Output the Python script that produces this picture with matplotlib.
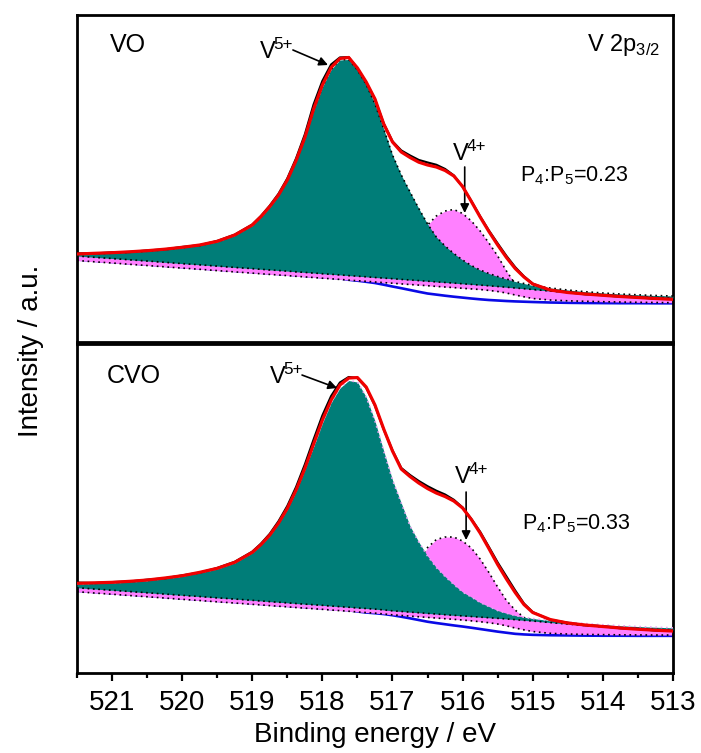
import matplotlib
matplotlib.use('Agg')
import matplotlib.pyplot as plt
from matplotlib.ticker import MultipleLocator

plt.rcParams['font.family'] = ['Liberation Sans Narrow', 'Liberation Sans', 'DejaVu Sans']
plt.rcParams['mathtext.fontset'] = 'custom'
plt.rcParams['mathtext.rm'] = 'Liberation Sans Narrow'

# binding energy grid (eV), denser around the peaks
energy = [521.5, 521.25, 521.0, 520.75, 520.5, 520.25, 520.0, 519.75, 519.5, 519.25,
          519.0, 518.875, 518.75, 518.625, 518.5, 518.375, 518.25, 518.125, 518.0, 517.875,
          517.75, 517.625, 517.5, 517.375, 517.25, 517.125, 517.0, 516.875, 516.75, 516.625,
          516.5, 516.375, 516.25, 516.125, 516.0, 515.875, 515.75, 515.625, 515.5, 515.375,
          515.25, 515.125, 515.0, 514.75, 514.5, 514.25, 514.0, 513.75, 513.5, 513.25,
          513.0]

# ---- VO ----
vo_raw = [88.6, 88.5, 89.6, 90.0, 91.5, 92.6, 95.0, 96.8, 101.0, 107.3,
          117.4, 126.0, 136.3, 148.2, 163.5, 183.5, 207.5, 237.5, 261.0, 277.5,
          284.5, 284.8, 273.5, 259.4, 242.6, 218.4, 200.6, 191.5, 186.5, 182.0,
          179.5, 177.2, 173.0, 166.5, 155.2, 140.9, 125.6, 111.4, 98.5, 86.0,
          74.8, 65.6, 58.3, 51.7, 49.8, 47.7, 46.9, 45.3, 44.8, 43.2,
          43.0]
vo_fit = [88.0, 88.7, 89.3, 90.2, 91.3, 92.8, 94.7, 97.0, 100.7, 107.0,
          117.0, 125.5, 135.5, 147.0, 162.0, 181.5, 204.5, 233.0, 257.0, 274.5,
          283.5, 284.5, 274.0, 260.0, 243.0, 218.0, 200.0, 190.0, 184.5, 179.8,
          177.0, 175.0, 171.5, 166.0, 155.5, 140.5, 125.0, 110.5, 97.0, 84.5,
          73.5, 65.0, 58.0, 52.0, 49.5, 48.0, 46.7, 45.5, 44.5, 43.5,
          42.7]
vo_bg = [82.5, 81.2, 80.0, 78.7, 77.5, 76.2, 74.9, 73.7, 72.4, 71.1,
         69.9, 69.2, 68.6, 68.0, 67.4, 66.7, 66.1, 65.5, 64.8, 64.2,
         63.6, 62.2, 61.3, 60.2, 59.0, 57.3, 55.5, 53.8, 52.0, 50.2,
         48.5, 47.4, 46.3, 45.3, 44.4, 43.5, 42.7, 42.0, 41.5, 41.0,
         40.6, 40.3, 40.0, 39.5, 39.2, 39.0, 38.9, 38.8, 38.8, 38.7,
         38.7]
vo_p5 = [87.5, 88.2, 88.8, 89.7, 90.8, 92.3, 94.2, 96.5, 100.2, 106.5,
         116.5, 125.0, 134.8, 146.5, 161.5, 181.0, 203.5, 231.5, 255.0, 272.5,
         282.0, 282.5, 272.0, 257.5, 238.0, 213.0, 187.0, 167.0, 150.0, 133.5,
         118.0, 105.0, 96.0, 88.5, 82.0, 76.5, 72.0, 68.5, 65.5, 63.0,
         60.5, 58.5, 56.5, 54.0, 52.0, 50.3, 49.0, 48.0, 47.2, 46.5,
         46.0]
vo_p4 = [86.3, 85.0, 83.8, 82.5, 81.3, 80.0, 78.7, 77.5, 76.2, 74.9,
         73.7, 73.0, 72.4, 71.8, 71.2, 70.5, 69.9, 69.3, 68.6, 68.0,
         67.4, 66.7, 67.0, 68.0, 70.0, 72.5, 76.0, 82.0, 92.0, 104.0,
         117.0, 126.0, 131.0, 132.5, 128.5, 121.0, 111.0, 99.0, 86.0, 71.0,
         58.0, 54.0, 52.8, 51.3, 49.8, 48.5, 47.3, 46.3, 45.5, 44.8,
         44.3]
vo_base5 = [86.0, 84.7, 83.5, 82.2, 81.0, 79.7, 78.4, 77.2, 75.9, 74.6,
            73.4, 72.7, 72.1, 71.5, 70.9, 70.2, 69.6, 69.0, 68.3, 67.7,
            67.1, 66.4, 65.8, 65.2, 64.5, 63.9, 63.3, 62.6, 62.0, 61.4,
            60.8, 60.1, 59.5, 58.9, 58.2, 57.6, 56.9, 56.2, 55.5, 54.8,
            54.0, 53.3, 52.5, 51.0, 49.5, 48.2, 47.0, 46.0, 45.2, 44.5,
            44.0]
vo_base4 = [81.5, 80.2, 79.0, 77.7, 76.5, 75.2, 73.9, 72.7, 71.4, 70.1,
            68.9, 68.2, 67.6, 67.0, 66.4, 65.7, 65.1, 64.5, 63.8, 63.2,
            62.6, 61.9, 61.3, 60.7, 60.0, 59.4, 58.8, 58.1, 57.5, 56.9,
            56.3, 55.6, 55.0, 54.4, 53.7, 53.1, 52.5, 51.6, 50.5, 49.0,
            47.0, 45.2, 43.5, 42.0, 41.2, 40.7, 40.3, 40.0, 39.7, 39.5,
            39.3]

# ---- CVO ----
cvo_raw = [90.4, 90.0, 90.9, 91.5, 93.3, 94.7, 97.6, 100.4, 105.0, 111.2,
           121.3, 129.4, 139.2, 151.8, 167.0, 186.0, 208.5, 233.5, 257.5, 277.0,
           290.5, 296.0, 295.0, 285.4, 267.5, 243.6, 222.5, 205.0, 198.0, 192.0,
           186.8, 182.3, 178.5, 173.2, 165.5, 154.0, 141.2, 126.0, 110.5, 96.5,
           82.5, 69.5, 60.9, 53.2, 50.3, 47.7, 46.8, 44.8, 44.1, 42.6,
           42.3]
cvo_fit = [89.7, 90.2, 90.7, 91.7, 93.0, 95.0, 97.3, 100.7, 104.7, 110.7,
           120.7, 128.5, 138.0, 150.0, 164.7, 183.0, 204.7, 229.0, 253.0, 273.0,
           288.0, 295.0, 295.5, 286.0, 268.0, 244.0, 222.0, 204.0, 196.5, 190.0,
           184.5, 180.0, 176.5, 172.0, 165.0, 153.5, 140.0, 124.5, 108.5, 94.0,
           80.5, 68.5, 60.5, 53.5, 50.0, 48.0, 46.5, 45.0, 43.8, 42.8,
           42.0]
cvo_bg = [82.3, 81.0, 79.8, 78.5, 77.3, 76.0, 74.7, 73.5, 72.2, 71.0,
          69.7, 69.1, 68.4, 67.8, 67.2, 66.5, 65.9, 65.3, 64.7, 64.0,
          63.4, 62.8, 61.5, 60.5, 59.8, 59.0, 57.8, 56.3, 54.7, 53.0,
          51.3, 50.0, 48.8, 47.6, 46.5, 45.3, 44.0, 42.7, 41.4, 40.3,
          39.2, 38.6, 38.2, 37.8, 37.6, 37.4, 37.3, 37.3, 37.2, 37.2,
          37.2]
cvo_p5 = [89.2, 89.7, 90.2, 91.2, 92.5, 94.5, 96.8, 100.2, 104.2, 110.2,
          120.2, 128.0, 137.5, 149.5, 164.0, 182.0, 203.5, 226.5, 250.0, 270.5,
          285.0, 292.5, 291.0, 276.0, 252.0, 222.0, 193.0, 170.0, 147.0, 131.0,
          117.0, 105.5, 96.5, 88.5, 81.0, 76.0, 70.5, 66.5, 62.5, 59.8,
          57.5, 55.8, 54.5, 52.5, 51.0, 49.5, 48.3, 47.3, 46.5, 45.8,
          45.2]
cvo_p4 = [85.6, 84.3, 83.1, 81.8, 80.6, 79.3, 78.0, 76.8, 75.5, 74.3,
          73.0, 72.4, 71.7, 71.1, 70.5, 69.8, 69.2, 68.6, 68.0, 67.3,
          66.7, 66.1, 65.4, 64.8, 68.0, 71.0, 76.0, 86.0, 98.0, 112.0,
          125.5, 133.5, 136.0, 136.0, 132.0, 125.0, 114.0, 100.5, 86.0, 72.5,
          63.0, 55.5, 53.0, 50.8, 49.3, 47.8, 46.5, 45.5, 44.6, 43.9,
          43.3]
cvo_base5 = [85.3, 84.0, 82.8, 81.5, 80.3, 79.0, 77.7, 76.5, 75.2, 74.0,
             72.7, 72.1, 71.4, 70.8, 70.2, 69.5, 68.9, 68.3, 67.7, 67.0,
             66.4, 65.8, 65.1, 64.5, 63.9, 63.1, 62.2, 61.6, 60.9, 60.3,
             59.6, 59.0, 58.3, 57.7, 57.1, 56.5, 55.9, 55.3, 54.7, 54.1,
             53.4, 52.7, 52.0, 50.5, 49.0, 47.5, 46.2, 45.2, 44.3, 43.6,
             43.0]
cvo_base4 = [81.3, 80.0, 78.8, 77.5, 76.3, 75.0, 73.7, 72.5, 71.2, 70.0,
             68.7, 68.1, 67.4, 66.8, 66.2, 65.5, 64.9, 64.3, 63.7, 63.0,
             62.4, 61.8, 61.1, 60.5, 59.9, 59.1, 58.2, 57.6, 56.9, 56.3,
             55.6, 55.0, 54.3, 53.7, 53.0, 52.2, 51.3, 50.3, 49.0, 47.2,
             45.0, 43.2, 41.5, 39.7, 39.0, 38.6, 38.4, 38.2, 38.1, 38.0,
             38.0]

TEAL = '#007D78'
PINK = '#FF80FF'
DOTS = (0, (1, 2.2))


def draw_panel(ax, raw, fit, bg, p5, p4, base5, base4, edge5):
    ax.plot(energy, bg, color='#0A0AE6', lw=1.9, zorder=1)
    ax.fill_between(energy, base4, p4, color=PINK, lw=0, zorder=2)
    ax.plot(energy, p4, color='k', ls=DOTS, lw=1.2, zorder=2.5)
    ax.fill_between(energy, base5, p5, color=TEAL, lw=0, zorder=3)
    ax.plot(energy, base4, color='k', ls=DOTS, lw=1.2, zorder=4)
    ax.plot(energy, base5, color='k', ls=DOTS, lw=1.2, zorder=4)
    ax.plot(energy, p5, color=edge5, ls=DOTS, lw=1.2, zorder=4)
    ax.plot(energy, raw, color='k', lw=1.6, zorder=5)
    ax.plot(energy, fit, color='#F00000', lw=2.3, zorder=6)
    ax.set_xlim(521.5, 513)
    for s in ax.spines.values():
        s.set_linewidth(2)
    ax.set_yticks([])


def sup_label(ax, x, y, base, sup, size=17):
    t = ax.text(x, y, base, fontsize=size, va='center', ha='left')
    ax.annotate(sup, xy=(1, 1), xycoords=t, xytext=(-1.5, 3), textcoords='offset points',
                fontsize=size * 0.72, ha='left', va='top')


fig = plt.figure(figsize=(7.01, 7.53), dpi=100)
ax1 = fig.add_axes([0.1098, 0.5458, 0.8502, 0.4343])
ax2 = fig.add_axes([0.1098, 0.1062, 0.8502, 0.4369])

draw_panel(ax1, vo_raw, vo_fit, vo_bg, vo_p5, vo_p4, vo_base5, vo_base4, 'k')
draw_panel(ax2, cvo_raw, cvo_fit, cvo_bg, cvo_p5, cvo_p4, cvo_base5, cvo_base4, '#E9A6F2')
ax1.set_ylim(0, 327)
ax2.set_ylim(0, 329)

ax1.set_xticks([])
ax2.xaxis.set_major_locator(MultipleLocator(1))
ax2.xaxis.set_minor_locator(MultipleLocator(0.5))
ax2.tick_params(axis='x', which='major', direction='out', length=6, width=1.6, labelsize=20, pad=6)
ax2.tick_params(axis='x', which='minor', direction='out', length=3.5, width=1.6)

arrow = dict(arrowstyle='-|>', color='k', lw=1.2, mutation_scale=13, shrinkA=0, shrinkB=0)

# VO panel labels
ax1.text(521.03, 297, 'VO', fontsize=18, va='center', ha='left')
sup_label(ax1, 518.89, 290, 'V', '5+')
ax1.annotate('', xy=(517.92, 277), xytext=(518.42, 292), arrowprops=arrow)
ax1.text(513.18, 297, r'V 2p$_{\mathregular{3/2}}$', fontsize=17, va='center', ha='right')
sup_label(ax1, 516.14, 188, 'V', '4+')
ax1.annotate('', xy=(515.97, 129), xytext=(515.97, 175), arrowprops=arrow)
ax1.text(515.18, 166, r'P$_{\mathregular{4}}$:P$_{\mathregular{5}}$=0.23', fontsize=15.5, va='center', ha='left')

# CVO panel labels
ax2.text(521.07, 297, 'CVO', fontsize=18, va='center', ha='left')
sup_label(ax2, 518.75, 296, 'V', '5+')
ax2.annotate('', xy=(517.79, 285), xytext=(518.29, 298), arrowprops=arrow)
sup_label(ax2, 516.11, 196, 'V', '4+')
ax2.annotate('', xy=(515.95, 133), xytext=(515.95, 181), arrowprops=arrow)
ax2.text(515.15, 149, r'P$_{\mathregular{4}}$:P$_{\mathregular{5}}$=0.33', fontsize=15.5, va='center', ha='left')

fig.text(0.044, 0.534, 'Intensity / a.u.', rotation=90, ha='center', va='center', fontsize=20)
fig.text(0.535, 0.024, 'Binding energy / eV', ha='center', va='center', fontsize=20)

fig.savefig('out.png', dpi=100)
